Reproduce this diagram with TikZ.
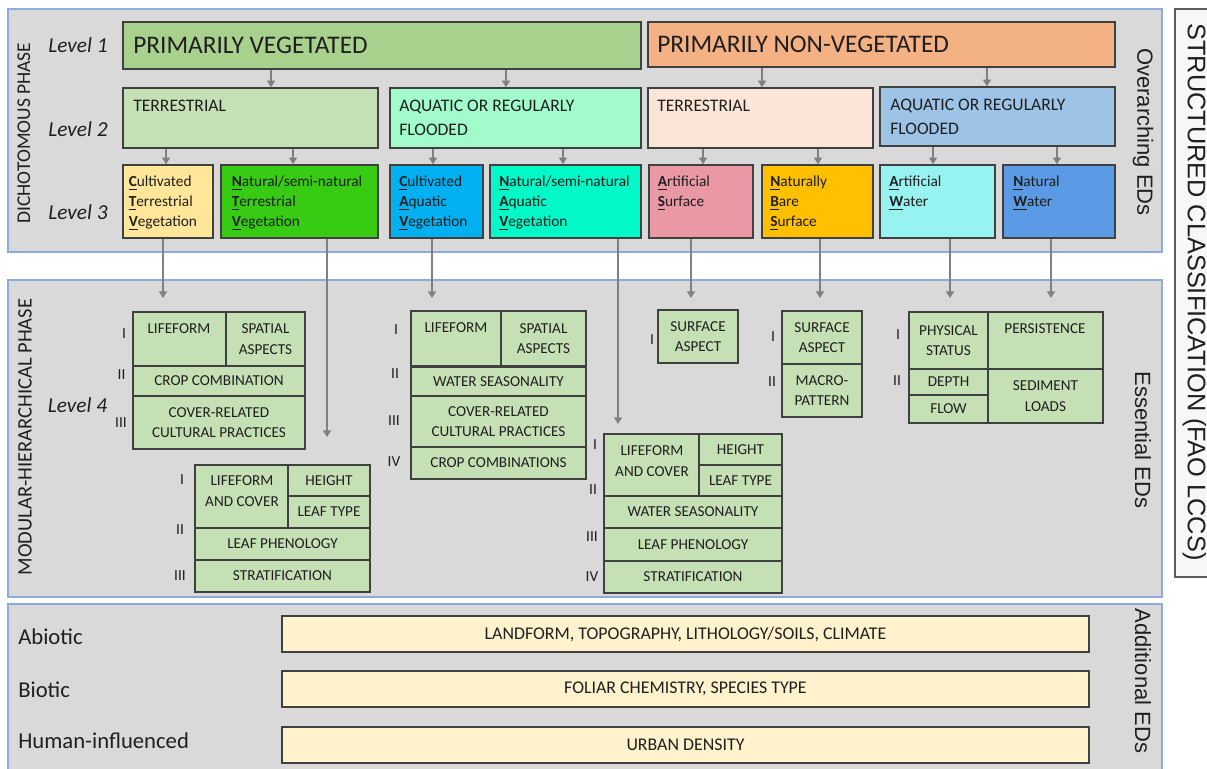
\documentclass[tikz,border=0pt]{standalone}
\usepackage{fontspec}
\setmainfont{Carlito}
\newfontfamily\arialf{Liberation Sans}
\usetikzlibrary{arrows.meta,fit}
\definecolor{panelg}{HTML}{D9D9D9}
\definecolor{panelb}{HTML}{8FAADC}
\definecolor{boxb}{HTML}{404040}
\definecolor{arrg}{HTML}{808080}
\definecolor{txt}{HTML}{1F1F1F}
\definecolor{pv}{HTML}{A9D18E}
\definecolor{pnv}{HTML}{F4B183}
\definecolor{ltv}{HTML}{C5E0B4}
\definecolor{lav}{HTML}{A2FBCB}
\definecolor{ltn}{HTML}{FBE5D6}
\definecolor{lan}{HTML}{9DC3E6}
\definecolor{cctv}{HTML}{FFE699}
\definecolor{cntv}{HTML}{38CB14}
\definecolor{ccav}{HTML}{00B0F0}
\definecolor{cnav}{HTML}{00F9C7}
\definecolor{cas}{HTML}{EA98A4}
\definecolor{cnbs}{HTML}{FFC000}
\definecolor{caw}{HTML}{97F3EF}
\definecolor{cnw}{HTML}{5B9BE5}
\definecolor{cellg}{HTML}{C5E0B4}
\definecolor{barc}{HTML}{FFF2CC}
\definecolor{structf}{HTML}{F7F7F7}
\newcommand\mkbox[6]{\node[#6, fit={(#2,#3) (#4,#5)}] (#1) {};}
\newcommand\mkcell[6]{\node[cell, fit={(#2,#3) (#4,#5)}] (#1) {};
  \node[celltext] (#1t) at (#1.center) {#6};}
\newcommand\varr[3]{\coordinate (vx) at (#3,0); \draw[arr] (#1.south -| vx) -- (#2.north -| vx);}
\newcommand\darr[4]{\coordinate (#2) at (#3,#4); \draw[arr] (#1.south -| #2) -- (#2);}
\newcommand\ul[1]{\underline{\textbf{#1}}}
\begin{document}
\begin{tikzpicture}[x=0.75pt,y=-0.75pt,
  every node/.style={text=txt, inner sep=0pt},
  panel/.style={draw=panelb, fill=panelg, line width=1.1pt, inner sep=0pt},
  bx/.style={draw=boxb, line width=1.1pt, inner sep=0pt},
  cell/.style={bx, fill=cellg},
  celltext/.style={align=center, font=\fontsize{11.4pt}{15.5pt}\selectfont},
  arr/.style={draw=arrg, line width=1.4pt, -{Triangle[length=5pt,width=6pt]}},
  l1t/.style={anchor=west, font=\fontsize{19pt}{21pt}\selectfont},
  l2t/.style={anchor=north west, align=left, font=\fontsize{13.2pt}{18pt}\selectfont},
  l3t/.style={anchor=north west, align=left, font=\fontsize{11.5pt}{15pt}\selectfont},
  lvl/.style={font=\fontsize{16pt}{18pt}\selectfont\itshape},
  rom/.style={font=\fontsize{11.5pt}{13pt}\selectfont},
  phase/.style={rotate=90, font=\fontsize{14.6pt}{16pt}\selectfont},
  side/.style={rotate=-90, font=\arialf\fontsize{16.5pt}{18pt}\selectfont},
  lab/.style={anchor=west, font=\fontsize{17pt}{19pt}\selectfont},
  bar/.style={bx, fill=barc},
  bartext/.style={font=\fontsize{13.4pt}{15pt}\selectfont}]
\useasboundingbox (0,0) rectangle (1207,768);
\clip (0,0) rectangle (1207,768);
% panels
\mkbox{P1}{8}{9}{1162}{252}{panel}
\mkbox{P2}{8}{280}{1162}{597}{panel}
\mkbox{P3}{8}{604}{1162}{790}{panel}
\mkbox{SC}{1175}{9}{1230}{577}{bx, draw=boxb!85, fill=structf}
\node[rotate=-90, font=\arialf\fontsize{19pt}{21pt}\selectfont] (SCt) at (1194.5,292) {STRUCTURED CLASSIFICATION (FAO LCCS)};
% side labels
\node[side] (OE) at (1143,132) {Overarching EDs};
\node[side] (EE) at (1143,440) {Essential EDs};
\node[side] (AE) at (1143,681) {Additional EDs};
\node[phase] (DP) at (24,133) {DICHOTOMOUS PHASE};
\node[rotate=90, font=\fontsize{15.4pt}{17pt}\selectfont] (MP) at (25,437) {MODULAR-HIERARCHICAL PHASE};
\node[lvl] (Lv1) at (78,45) {Level 1};
\node[lvl] (Lv2) at (78,129.5) {Level 2};
\node[lvl] (Lv3) at (78,212.5) {Level 3};
\node[lvl] (Lv4) at (77.5,405.5) {Level 4};
% level 1
\mkbox{PV}{123}{22}{641}{69}{bx, fill=pv}
\mkbox{PNV}{648}{22}{1115}{67}{bx, fill=pnv}
\node[l1t] (PVt) at (133,45.5) {PRIMARILY VEGETATED};
\node[l1t] (PNVt) at (657,44.5) {PRIMARILY NON-VEGETATED};
% level 2
\mkbox{TV}{123}{88}{378}{148}{bx, fill=ltv}
\mkbox{AV}{390}{88}{641}{148}{bx, fill=lav}
\mkbox{TN}{648}{88}{873}{148}{bx, fill=ltn}
\mkbox{AN}{880}{87}{1115}{146}{bx, fill=lan}
\node[l2t] (TVt) at (133,100) {TERRESTRIAL};
\node[l2t] (AVt) at (399,100) {AQUATIC OR REGULARLY\\FLOODED};
\node[l2t] (TNt) at (657,100) {TERRESTRIAL};
\node[l2t] (ANt) at (890,99) {AQUATIC OR REGULARLY\\FLOODED};
% level 3
\mkbox{CTV}{123}{165}{213}{238}{bx, fill=cctv}
\mkbox{NTV}{221}{165}{378}{238}{bx, fill=cntv}
\mkbox{CAV}{390}{165}{483}{238}{bx, fill=ccav}
\mkbox{NAV}{490}{165}{641}{238}{bx, fill=cnav}
\mkbox{AS}{649}{165}{753}{238}{bx, fill=cas}
\mkbox{NBS}{762}{165}{873}{238}{bx, fill=cnbs}
\mkbox{AW}{880}{165}{995}{238}{bx, fill=caw}
\mkbox{NW}{1003}{165}{1115}{238}{bx, fill=cnw}
\node[l3t] (CTVt) at (128.5,176) {\ul{C}ultivated\\\ul{T}errestrial\\\ul{V}egetation};
\node[l3t] (NTVt) at (231.5,176) {\ul{N}atural/semi-natural\\\ul{T}errestrial\\\ul{V}egetation};
\node[l3t] (CAVt) at (399,176) {\ul{C}ultivated\\\ul{A}quatic\\\ul{V}egetation};
\node[l3t] (NAVt) at (499,176) {\ul{N}atural/semi-natural\\\ul{A}quatic\\\ul{V}egetation};
\node[l3t] (ASt) at (657.5,176) {\ul{A}rtificial\\\ul{S}urface};
\node[l3t] (NBSt) at (770,176) {\ul{N}aturally\\\ul{B}are\\\ul{S}urface};
\node[l3t] (AWt) at (889,176) {\ul{A}rtificial\\\ul{W}ater};
\node[l3t] (NWt) at (1013,176) {\ul{N}atural\\\ul{W}ater};
% arrows level 1 -> 2 -> 3
\varr{PV}{TV}{271}
\varr{PV}{AV}{506}
\varr{PNV}{TN}{762}
\varr{PNV}{AN}{987}
\varr{TV}{CTV}{166}
\varr{TV}{NTV}{293}
\varr{AV}{CAV}{433}
\varr{AV}{NAV}{563}
\varr{TN}{AS}{703}
\varr{TN}{NBS}{818}
\varr{AN}{AW}{933}
\varr{AN}{NW}{1057}
% arrows level 3 -> 4
\darr{CTV}{eCTV}{163}{298}
\darr{NTV}{eNTV}{327}{437}
\darr{CAV}{eCAV}{432}{298}
\darr{NAV}{eNAV}{618}{424}
\darr{AS}{eAS}{691}{298}
\darr{NBS}{eNBS}{820}{298}
\darr{AW}{eAW}{950}{298}
\darr{NW}{eNW}{1051}{298}
% group A
\mkbox{A1}{133}{312}{226}{366}{cell}
\node[celltext] (A1t) at (179,329) {LIFEFORM};
\mkcell{A2}{226}{312}{305}{366}{SPATIAL\\ASPECTS}
\mkcell{A3}{133}{366}{305}{396}{CROP COMBINATION}
\mkcell{A4}{133}{396}{305}{449}{COVER-RELATED\\CULTURAL PRACTICES}
\node[rom] (rA1) at (124,333.5) {I};
\node[rom] (rA2) at (121.5,375) {II};
\node[rom] (rA3) at (121,423) {III};
% group B
\mkbox{B1}{195}{465}{288}{528}{cell}
\node[celltext] (B1t) at (242,491) {LIFEFORM\\AND COVER};
\mkcell{B2}{288}{465}{370}{496}{HEIGHT}
\mkcell{B3}{288}{496}{370}{528}{LEAF TYPE}
\mkcell{B4}{195}{528}{370}{560}{LEAF PHENOLOGY}
\mkcell{B5}{195}{560}{370}{592}{STRATIFICATION}
\node[rom] (rB1) at (182,480) {I};
\node[rom] (rB2) at (180,530) {II};
\node[rom] (rB3) at (180,576) {III};
% group C
\mkbox{C1}{411}{311}{501}{366}{cell}
\node[celltext] (C1t) at (456,328) {LIFEFORM};
\mkcell{C2}{501}{311}{586}{366}{SPATIAL\\ASPECTS}
\mkcell{C3}{411}{367.5}{586}{396}{WATER SEASONALITY}
\mkcell{C4}{411}{396}{586}{447}{COVER-RELATED\\CULTURAL PRACTICES}
\mkcell{C5}{411}{447}{586}{479}{CROP COMBINATIONS}
\node[rom] (rC1) at (396,330) {I};
\node[rom] (rC2) at (395,374) {II};
\node[rom] (rC3) at (394,421) {III};
\node[rom] (rC4) at (394,462) {IV};
% group D
\mkbox{D1}{604}{434}{699}{496}{cell}
\node[celltext] (D1t) at (652,461) {LIFEFORM\\AND COVER};
\mkcell{D2}{699}{434}{782}{465}{HEIGHT}
\mkcell{D3}{699}{465}{782}{496}{LEAF TYPE}
\mkcell{D4}{604}{496}{782}{528}{WATER SEASONALITY}
\mkcell{D5}{604}{528}{782}{561}{LEAF PHENOLOGY}
\mkcell{D6}{604}{561}{782}{593}{STRATIFICATION}
\node[rom] (rD1) at (595,445) {I};
\node[rom] (rD2) at (593,490) {II};
\node[rom] (rD3) at (592,537) {III};
\node[rom] (rD4) at (592,577) {IV};
% group E
\mkcell{E1}{658}{310}{738}{363}{SURFACE\\ASPECT}
\node[rom] (rE1) at (652,340) {I};
% group F
\mkcell{F1}{782}{311}{862}{364}{SURFACE\\ASPECT}
\mkcell{F2}{782}{364}{862}{417}{MACRO-\\PATTERN}
\node[rom] (rF1) at (773,337) {I};
\node[rom] (rF2) at (772,382) {II};
% group G
\mkcell{G1}{909}{312}{988}{369}{PHYSICAL\\STATUS}
\mkbox{G2}{988}{312}{1103}{369}{cell}
\node[celltext] (G2t) at (1045,329) {PERSISTENCE};
\mkcell{G3}{909}{369}{988}{395}{DEPTH}
\mkcell{G4}{909}{395}{988}{423}{FLOW}
\mkcell{G5}{988}{369}{1103}{423}{SEDIMENT\\LOADS}
\node[rom] (rG1) at (898,335) {I};
\node[rom] (rG2) at (897,381) {II};
% additional EDs
\node[lab] (Ab) at (18,636.5) {Abiotic};
\node[lab] (Bi) at (18,689.5) {Biotic};
\node[lab] (Hu) at (18,741) {Human-influenced};
\mkbox{AbB}{282}{616}{1089}{652}{bar}
\mkbox{BiB}{282}{671}{1089}{707}{bar}
\mkbox{HuB}{282}{727}{1089}{763}{bar}
\node[bartext] (AbBt) at (AbB.center) {LANDFORM, TOPOGRAPHY, LITHOLOGY/SOILS, CLIMATE};
\node[bartext] (BiBt) at (BiB.center) {FOLIAR CHEMISTRY, SPECIES TYPE};
\node[bartext] (HuBt) at (HuB.center) {URBAN DENSITY};
\end{tikzpicture}
\end{document}
